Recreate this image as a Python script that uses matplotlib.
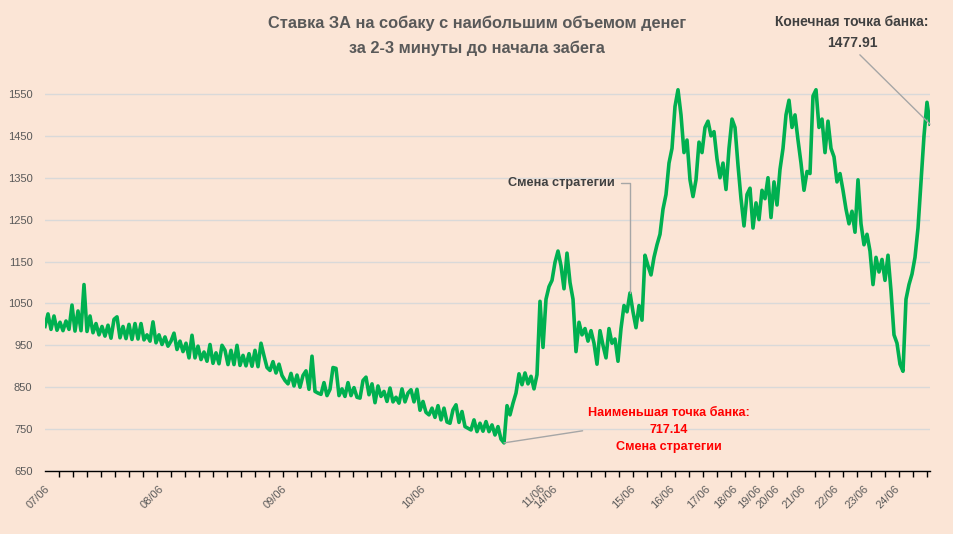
import matplotlib
matplotlib.use("Agg")
import matplotlib.pyplot as plt
import numpy as np

plt.rcParams['font.family'] = ['Liberation Sans', 'DejaVu Sans']

# bank value after each bet (roughly every third pixel)
bank = [
    995, 1025, 988, 1020, 986, 1005, 985, 1008, 988, 1046,
    984, 1032, 985, 1095, 983, 1020, 980, 1002, 975, 995,
    972, 998, 967, 1012, 1018, 968, 995, 966, 1000, 964,
    1002, 965, 1002, 963, 975, 960, 1006, 956, 975, 952,
    970, 948, 960, 979, 940, 960, 935, 955, 920,
    974, 920, 948, 916, 934, 912, 952, 907, 932, 906,
    950, 938, 904, 938, 904, 950, 902, 926, 901, 930,
    900, 938, 899, 955, 925, 897, 890, 911, 884, 905,
    878, 866, 858, 883, 853, 879, 850, 878, 889, 845,
    924, 840, 836, 833, 861, 830, 845, 897,
    895, 830, 846, 828, 861, 830, 849, 826, 824, 866,
    874, 832, 858, 813, 853, 828, 840, 816, 848, 815,
    826, 812, 846, 815, 836, 844, 815, 845, 795, 816,
    790, 784, 800, 778, 806, 772, 800, 767, 764, 796,
    808, 766, 792, 756, 752, 748, 772, 744, 764,
    745, 768, 744, 760, 736, 756, 726, 717.14, 806, 784,
    812, 836, 882, 856, 884, 858, 876, 846, 880, 1055,
    945, 1060, 1090, 1105, 1148, 1175, 1140, 1085, 1170, 1100,
    1060, 935, 1005, 975, 990, 960, 985, 955, 905, 985,
    950, 920, 990, 955, 965, 912, 990, 1045,
    1030, 1075, 1030, 992, 1045, 1010, 1165, 1140, 1118, 1160,
    1190, 1215, 1275, 1310, 1385, 1420, 1520, 1560, 1500, 1410,
    1440, 1345, 1305, 1345, 1435, 1410, 1470, 1485, 1450, 1460,
    1395, 1350, 1385, 1322, 1420, 1490, 1470, 1380, 1300, 1235,
    1310, 1325, 1230, 1290, 1250, 1320, 1300, 1350,
    1255, 1340, 1285, 1370, 1420, 1500, 1535, 1470, 1500, 1440,
    1385, 1320, 1365, 1360, 1545, 1560, 1470, 1490, 1410, 1485,
    1420, 1400, 1340, 1360, 1320, 1275, 1240, 1270, 1220, 1345,
    1240, 1190, 1215, 1175, 1095, 1160, 1125, 1155, 1105, 1165,
    1080, 975, 955, 905, 888, 1060, 1095, 1120, 1160, 1230,
    1340, 1450, 1530, 1477.91,
]

day_labels = ['07/06', '08/06', '09/06', '10/06', '11/06', '14/06', '15/06', '16/06',
              '17/06', '18/06', '19/06', '20/06', '21/06', '22/06', '23/06', '24/06']
day_starts = [0, 38, 79, 125, 165, 169, 195, 208, 220, 229, 237, 243, 252, 263, 273, 283]

y_ticks = [650, 750, 850, 950, 1050, 1150, 1250, 1350, 1450, 1550]

strategy_change_bet = 195

bg = '#FBE5D6'
grey = '#595959'

fig = plt.figure(figsize=(9.54, 5.34), dpi=100, facecolor=bg)
ax = fig.add_axes([45 / 954, 63 / 534, 885 / 954, 398 / 534], facecolor=bg)

x = np.arange(len(bank))
ax.plot(x, bank, color='#00B050', lw=2.6, zorder=3)

ax.set_xlim(0, len(bank) - 1)
ax.set_ylim(650, 1600)
ax.set_yticks(y_ticks)
ax.yaxis.grid(True, color='#D9D9D9', lw=1)
ax.set_axisbelow(True)
for s in ['top', 'right', 'left']:
    ax.spines[s].set_visible(False)
ax.spines['bottom'].set_color('black')
ax.spines['bottom'].set_linewidth(1)

ax.tick_params(axis='y', length=0, pad=9, labelsize=8, labelcolor=grey)
ax.set_xticks(day_starts)
ax.set_xticklabels(day_labels, rotation=45, ha='right', rotation_mode='anchor',
                   fontsize=8, color=grey)
ax.tick_params(axis='x', which='major', length=0, pad=9)
ax.set_xticks(np.arange(0, len(bank), 14 / 3), minor=True)
ax.tick_params(axis='x', which='minor', length=4, width=1, color='black', direction='out')

# title
fig.text(0.5, 0.933, 'Ставка ЗА на собаку с наибольшим объемом денег\nза 2-3 минуты до начала забега',
         ha='center', va='center', fontsize=11.8, fontweight='bold', color=grey, linespacing=1.75)

# annotations
lead = dict(arrowstyle='-', color='#A6A6A6', lw=1, shrinkA=2, shrinkB=0)

ax.annotate('Смена стратегии', xy=(strategy_change_bet, bank[strategy_change_bet]),
            xytext=(190, 1338), ha='right', va='center', fontsize=9.2, fontweight='bold',
            color='#404040',
            arrowprops=dict(lead, connectionstyle='angle,angleA=0,angleB=90,rad=0'))

low = int(np.argmin(bank))
ax.annotate('Наименьшая точка банка:\n%.2f\nСмена стратегии' % bank[low],
            xy=(low, bank[low]), xytext=(208, 748), ha='center', va='center',
            multialignment='center', fontsize=9.1, fontweight='bold', color='#FF0000',
            linespacing=1.6, arrowprops=dict(lead, relpos=(0, 0.5)))

ax.annotate('Конечная точка банка:\n%.2f' % bank[-1], xy=(len(bank) - 1, bank[-1]),
            xytext=(269, 1696), ha='center', va='center', fontsize=10, fontweight='bold',
            color='#404040', linespacing=1.6, annotation_clip=False,
            arrowprops=dict(lead, relpos=(0.52, 0)))

fig.savefig('out.png', dpi=100, facecolor=bg)
